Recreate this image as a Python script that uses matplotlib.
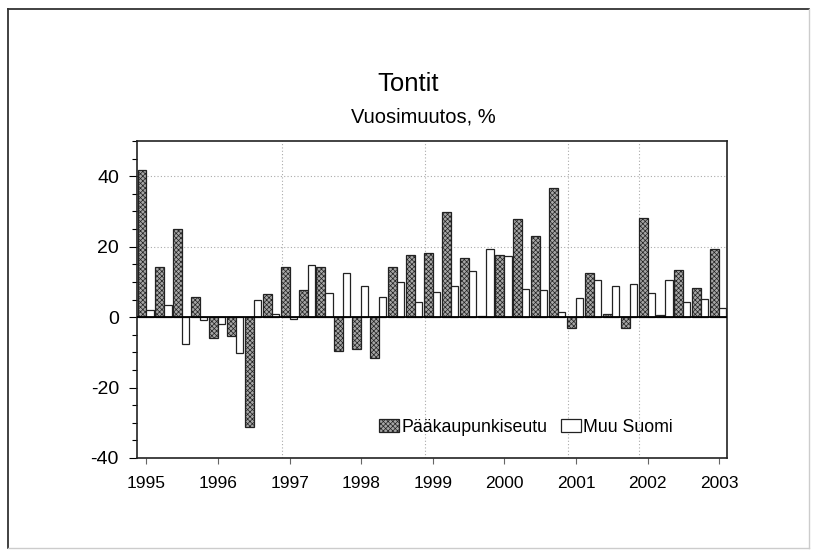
import numpy as np
import matplotlib
matplotlib.use("Agg")
import matplotlib.pyplot as plt
from matplotlib.lines import Line2D

plt.rcParams['font.family'] = ['Liberation Sans', 'DejaVu Sans']
plt.rcParams['hatch.linewidth'] = 0.5

# Quarterly data, 1995 Q1 - 2003 Q1
years = [1995, 1996, 1997, 1998, 1999, 2000, 2001, 2002, 2003]
paakaupunkiseutu = [41.8, 14.1, 25.0, 5.8,
                    -5.8, -5.4, -31.3, 6.6,
                    14.1, 7.8, 14.1, -9.6,
                    -9.0, -11.6, 14.1, 17.5,
                    18.1, 29.9, 16.9, 0.4,
                    17.5, 27.9, 23.1, 36.6,
                    -3.0, 12.5, 0.8, -3.1,
                    28.2, 0.7, 13.4, 8.3,
                    19.2]
muu_suomi = [2.1, 3.3, -7.5, -0.7,
             -1.9, -10.1, 5.0, 1.0,
             -0.6, 14.9, 6.8, 12.5,
             8.7, 5.8, 9.9, 4.4,
             7.0, 8.8, 13.0, 19.4,
             17.4, 7.9, 7.8, 1.4,
             5.4, 10.6, 8.7, 9.4,
             6.9, 10.5, 4.3, 5.2,
             2.5]

W, H = 818, 556
fig = plt.figure(figsize=(W / 100, H / 100), dpi=100)

# outer frame of the page
fig.add_artist(Line2D([8 / W, 8 / W], [1 - 9 / H, 1 - 548 / H], color='#333333', lw=1.3))
fig.add_artist(Line2D([8 / W, 809 / W], [1 - 9 / H, 1 - 9 / H], color='#333333', lw=1.3))
fig.add_artist(Line2D([809 / W, 809 / W], [1 - 9 / H, 1 - 548 / H], color='#cccccc', lw=1.0))
fig.add_artist(Line2D([8 / W, 809 / W], [1 - 548 / H, 1 - 548 / H], color='#cccccc', lw=1.0))

left, right, top, bottom = 137, 727, 141, 458
ax = fig.add_axes([left / W, 1 - bottom / H, (right - left) / W, (bottom - top) / H])

x = np.arange(len(paakaupunkiseutu))
ax.bar(x - 0.5, paakaupunkiseutu, width=0.5, align='edge', facecolor='#a6a6a6',
       edgecolor='#222222', hatch='xxxxxxx', linewidth=0.9, label='Pääkaupunkiseutu', zorder=3)
ax.bar(x, muu_suomi, width=0.4, align='edge', facecolor='white',
       edgecolor='#222222', linewidth=0.9, label='Muu Suomi', zorder=3)

ax.axhline(0, color='black', lw=1.3, zorder=4)

# faint dotted grid as in the original print
for yv in [20, 40]:
    ax.axhline(yv, color='#aaaaaa', lw=0.8, ls=(0, (1, 2)), zorder=1)
for yr in [1997, 1999, 2001, 2002]:
    ax.axvline(4 * (yr - 1995) - 0.45, color='#aaaaaa', lw=0.8, ls=(0, (1, 2)), zorder=1)

ax.set_xlim(-0.53, 32.44)
ax.set_ylim(-40, 50)
ax.set_xticks([4 * (y - 1995) for y in years])
ax.set_xticklabels([str(y) for y in years], fontsize=12.5)
ax.set_yticks([-40, -20, 0, 20, 40])
ax.set_yticklabels(['-40', '-20', '0', '20', '40'], fontsize=14)
ax.set_yticks(np.arange(-40, 51, 5), minor=True)
ax.tick_params(axis='y', which='major', direction='out', length=6, width=0.8, pad=7)
ax.tick_params(axis='y', which='minor', direction='out', length=3.5, width=0.8)
ax.tick_params(axis='x', which='major', direction='out', length=4, width=0.8, color='#666666', pad=9)
for s in ax.spines.values():
    s.set_linewidth(1.2)
    s.set_color('#222222')

fig.text(408 / W, 1 - 84 / H, 'Tontit', fontsize=18.5, ha='center', va='center')
fig.text(423 / W, 1 - 117 / H, 'Vuosimuutos, %', fontsize=14.5, ha='center', va='center')

ax.legend(loc='center left', bbox_to_anchor=(379 / W, 1 - 427 / H), bbox_transform=fig.transFigure,
          ncol=2, frameon=False, fontsize=12.8, handlelength=1.15, handleheight=0.7,
          handletextpad=0.12, columnspacing=0.75, borderpad=0, borderaxespad=0)

fig.savefig('out.png', dpi=100)
